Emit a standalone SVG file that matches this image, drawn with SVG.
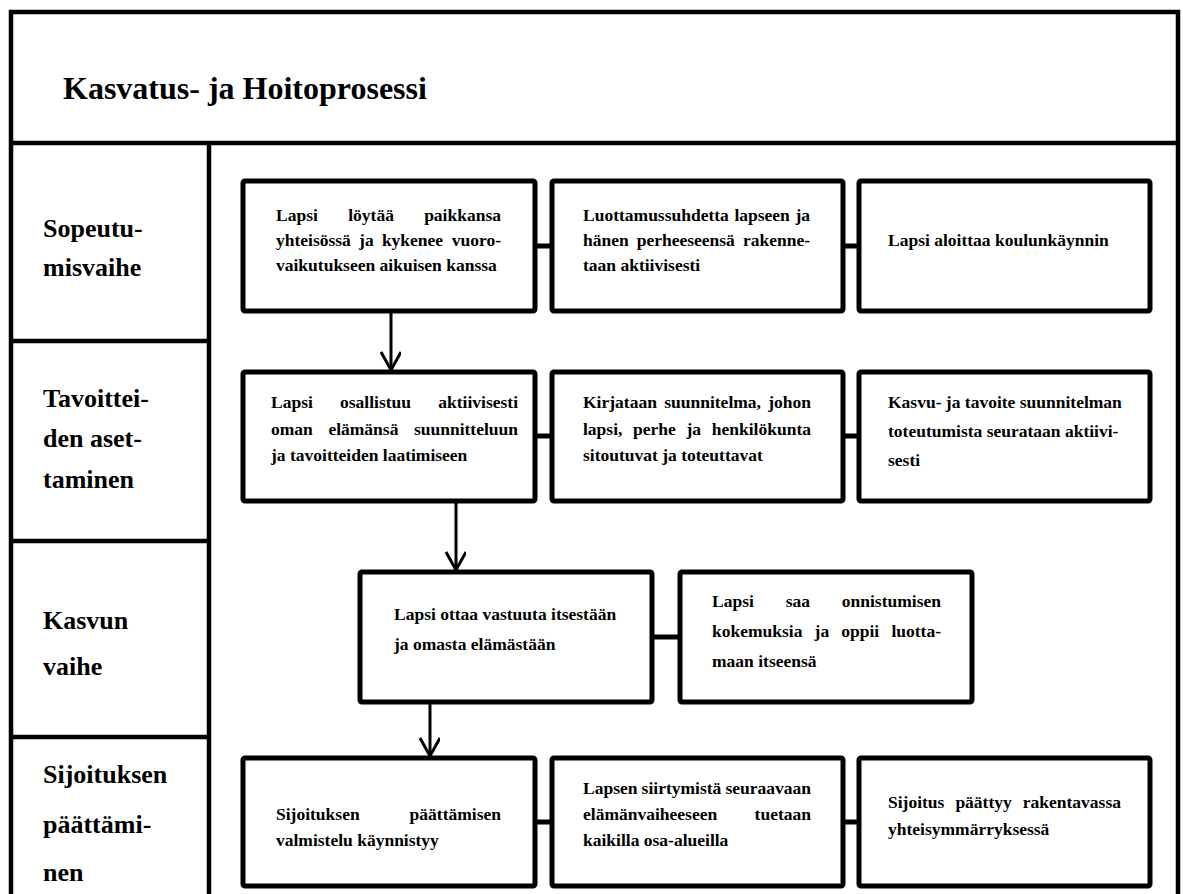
<svg xmlns="http://www.w3.org/2000/svg" width="1183" height="894" viewBox="0 0 1183 894">
<style>
.frame{stroke:#000;stroke-width:4.5;fill:none}
.box{fill:#fff;stroke:#000;stroke-width:5}
.link{stroke:#000;stroke-width:5;fill:none}
.arrow{stroke:#000;stroke-width:3;fill:none}
text{font-family:"Liberation Serif","Times New Roman",serif;font-weight:bold;fill:#000}
.t{font-size:17.5px}
.lbl{font-size:26px}
.title{font-size:32px}
.e{text-anchor:end}
</style>
<defs>
<marker id="vee" markerWidth="24" markerHeight="24" refX="19" refY="10" orient="auto" markerUnits="userSpaceOnUse">
<path d="M1,0 L19,10 L1,20" fill="none" stroke="#000" stroke-width="3"/>
</marker>
</defs>
<rect width="1183" height="894" fill="#fff"/>
<g id="frame">
<path class="frame" d="M11,894 V12 H1178 V894"/>
<path class="frame" d="M11,143 H1178"/>
<path class="frame" d="M209,143 V894"/>
<path class="frame" d="M11,341 H209 M11,541 H209 M11,737 H209"/>
</g>
<g id="title"><text class="title" x="63" y="99">Kasvatus- ja Hoitoprosessi</text></g>
<g id="phase-labels">
<text class="lbl" x="43" y="237">Sopeutu-</text>
<text class="lbl" x="43" y="276">misvaihe</text>
<text class="lbl" x="43" y="407">Tavoittei-</text>
<text class="lbl" x="43" y="447">den aset-</text>
<text class="lbl" x="43" y="488">taminen</text>
<text class="lbl" x="43" y="629">Kasvun</text>
<text class="lbl" x="43" y="675">vaihe</text>
<text class="lbl" x="43" y="783">Sijoituksen</text>
<text class="lbl" x="43" y="833">päättämi-</text>
<text class="lbl" x="43" y="881">nen</text>
</g>
<g id="connectors">
<path class="link" d="M535,246 H552 M843,246 H859"/>
<path class="link" d="M535,436 H552 M843,436 H859"/>
<path class="link" d="M652,637 H680"/>
<path class="link" d="M535,822 H552 M843,822 H859"/>
<path class="arrow" d="M391,311 V370" marker-end="url(#vee)"/>
<path class="arrow" d="M456,501 V570" marker-end="url(#vee)"/>
<path class="arrow" d="M430,702 V756" marker-end="url(#vee)"/>
</g>
<g id="n1">
<rect class="box" x="243" y="181" width="292" height="130" rx="2"/>
<text class="t" y="221"><tspan x="276">Lapsi</tspan><tspan x="348.2">löytää</tspan><tspan x="501" class="e">paikkansa</tspan></text>
<text class="t" y="246"><tspan x="276">yhteisössä</tspan><tspan x="359.1">ja</tspan><tspan x="381.9">kykenee</tspan><tspan x="501" class="e">vuoro-</tspan></text>
<text class="t" x="276" y="271">vaikutukseen aikuisen kanssa</text>
</g>
<g id="n2">
<rect class="box" x="552" y="181" width="291" height="130" rx="2"/>
<text class="t" y="221"><tspan x="583">Luottamussuhdetta</tspan><tspan x="734.4">lapseen</tspan><tspan x="810" class="e">ja</tspan></text>
<text class="t" y="246"><tspan x="583">hänen</tspan><tspan x="636.7">perheeseensä</tspan><tspan x="810" class="e">rakenne-</tspan></text>
<text class="t" x="583" y="271">taan aktiivisesti</text>
</g>
<g id="n3">
<rect class="box" x="859" y="181" width="291" height="130" rx="2"/>
<text class="t" x="888" y="246">Lapsi aloittaa koulunkäynnin</text>
</g>
<g id="n4">
<rect class="box" x="243" y="372" width="292" height="129" rx="2"/>
<text class="t" y="408"><tspan x="271">Lapsi</tspan><tspan x="340">osallistuu</tspan><tspan x="518" class="e">aktiivisesti</tspan></text>
<text class="t" y="435"><tspan x="271">oman</tspan><tspan x="328.4">elämänsä</tspan><tspan x="518" class="e">suunnitteluun</tspan></text>
<text class="t" x="271" y="461">ja tavoitteiden laatimiseen</text>
</g>
<g id="n5">
<rect class="box" x="552" y="372" width="291" height="129" rx="2"/>
<text class="t" y="408"><tspan x="583">Kirjataan</tspan><tspan x="664.2">suunnitelma,</tspan><tspan x="811" class="e">johon</tspan></text>
<text class="t" y="435"><tspan x="583">lapsi,</tspan><tspan x="633.1">perhe</tspan><tspan x="686.5">ja</tspan><tspan x="811" class="e">henkilökunta</tspan></text>
<text class="t" x="583" y="461">sitoutuvat ja toteuttavat</text>
</g>
<g id="n6">
<rect class="box" x="859" y="372" width="291" height="129" rx="2"/>
<text class="t" x="888" y="408">Kasvu- ja tavoite suunnitelman</text>
<text class="t" x="888" y="437">toteutumista seurataan aktiivi-</text>
<text class="t" x="888" y="466">sesti</text>
</g>
<g id="n7">
<rect class="box" x="360" y="572" width="292" height="130" rx="2"/>
<text class="t" x="394" y="620">Lapsi ottaa vastuuta itsestään</text>
<text class="t" x="394" y="650">ja omasta elämästään</text>
</g>
<g id="n8">
<rect class="box" x="680" y="572" width="292" height="130" rx="2"/>
<text class="t" y="607"><tspan x="712">Lapsi</tspan><tspan x="785.7">saa</tspan><tspan x="941" class="e">onnistumisen</tspan></text>
<text class="t" y="637"><tspan x="712">kokemuksia</tspan><tspan x="814.6">ja</tspan><tspan x="841.3">oppii</tspan><tspan x="941" class="e">luotta-</tspan></text>
<text class="t" x="712" y="667">maan itseensä</text>
</g>
<g id="n9">
<rect class="box" x="243" y="758" width="292" height="128" rx="2"/>
<text class="t" y="820"><tspan x="276">Sijoituksen</tspan><tspan x="501" class="e">päättämisen</tspan></text>
<text class="t" x="276" y="846">valmistelu käynnistyy</text>
</g>
<g id="n10">
<rect class="box" x="552" y="758" width="291" height="128" rx="2"/>
<text class="t" y="794"><tspan x="583">Lapsen</tspan><tspan x="641.6">siirtymistä</tspan><tspan x="811" class="e">seuraavaan</tspan></text>
<text class="t" y="820"><tspan x="583">elämänvaiheeseen</tspan><tspan x="811" class="e">tuetaan</tspan></text>
<text class="t" x="583" y="846">kaikilla osa-alueilla</text>
</g>
<g id="n11">
<rect class="box" x="859" y="758" width="291" height="128" rx="2"/>
<text class="t" y="808"><tspan x="888">Sijoitus</tspan><tspan x="955.4">päättyy</tspan><tspan x="1121" class="e">rakentavassa</tspan></text>
<text class="t" x="888" y="835">yhteisymmärryksessä</text>
</g>
</svg>
